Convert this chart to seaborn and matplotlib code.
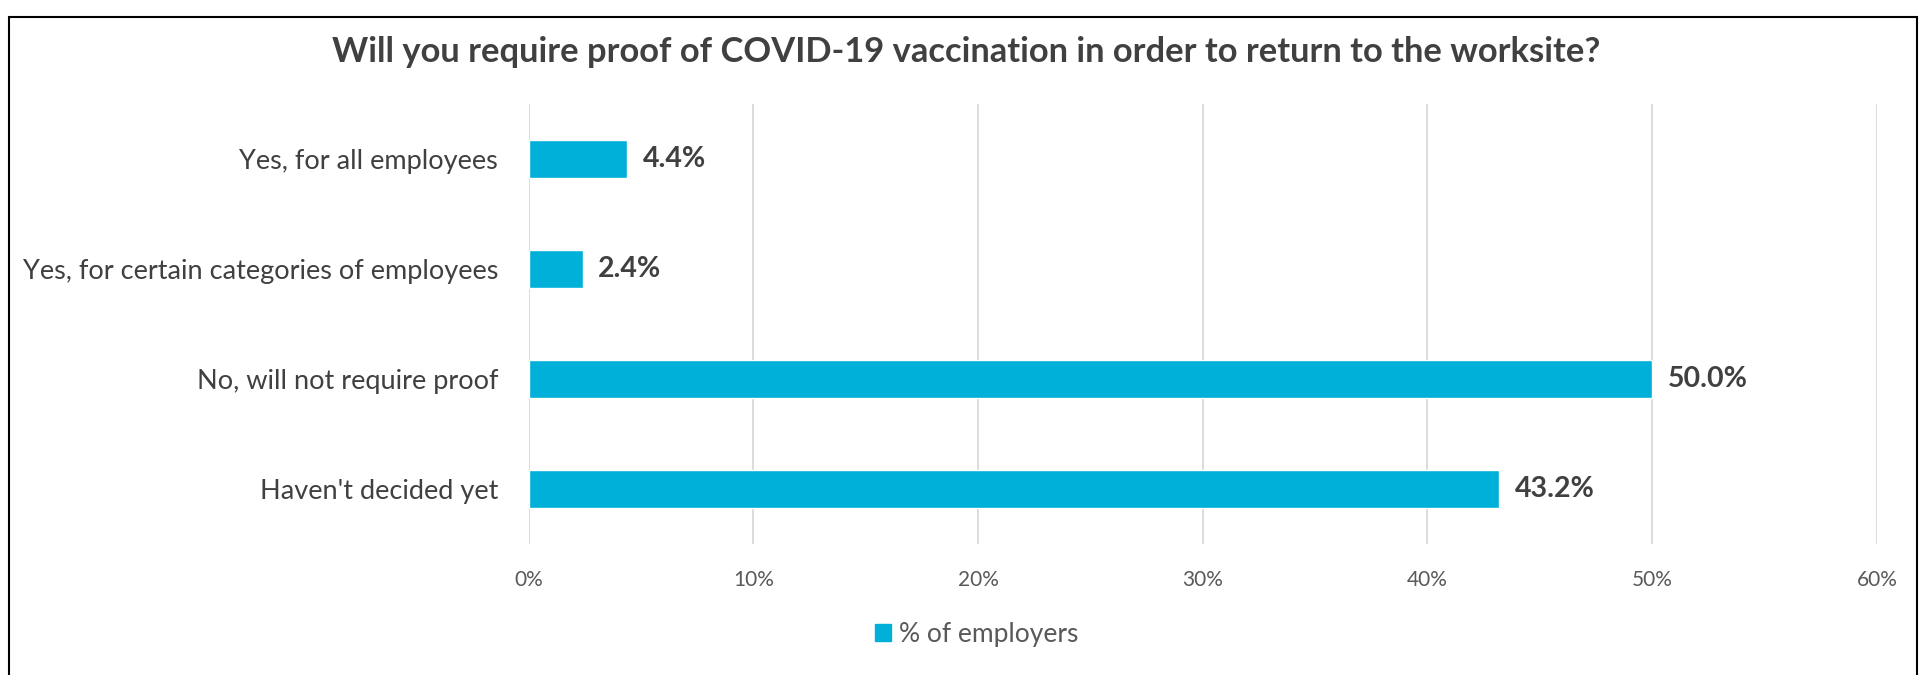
import matplotlib
matplotlib.use("Agg")
import matplotlib.pyplot as plt
import seaborn as sns
import pandas as pd
from matplotlib.patches import Rectangle, Patch

categories = ["Yes, for all employees", "Yes, for certain categories of employees",
              "No, will not require proof", "Haven't decided yet"]
values = [4.4, 2.4, 50.0, 43.2]
series_name = "% of employers"
xticks = [0, 10, 20, 30, 40, 50, 60]
title = "Will you require proof of COVID-19 vaccination in order to return to the worksite?"

sns.set_theme(style="white")
plt.rcParams['font.family'] = ['Lato', 'DejaVu Sans']

bar_color = "#00B0D8"
df = pd.DataFrame({"cat": categories, "val": values})

fig = plt.figure(figsize=(19.27, 6.75), dpi=100)
ax = fig.add_axes([0.2743, 0.194, 0.6997, 0.652])
sns.barplot(data=df, y="cat", x="val", color=bar_color, width=0.35, ax=ax,
            saturation=1, orient="h")
ax.set_xlim(0, 60)
ax.set_ylim(3.5, -0.5)
ax.set_xticks(xticks)
ax.set_xticklabels([f"{t}%" for t in xticks], color="#595959", fontsize=15)
ax.tick_params(axis="x", length=0, pad=19)
ax.tick_params(axis="y", length=0, pad=22, labelsize=19.5, labelcolor="#404040")
ax.set_xlabel("")
ax.set_ylabel("")
ax.grid(axis="x", color="#D9D9D9", linewidth=1.3)
ax.set_axisbelow(True)
for s in ax.spines.values():
    s.set_visible(False)

for c in ax.containers:
    ax.bar_label(c, labels=[f"{v:.1f}%" for v in values], padding=11,
                 fontsize=20.5, fontweight="bold", color="#404040")

fig.text(0.5015, 0.923, title, ha="center", va="center", fontsize=24.8,
         fontweight="bold", color="#404040")

fig.legend(handles=[Patch(color=bar_color, label=series_name)], loc="center",
           bbox_to_anchor=(0.507, 0.06), frameon=False, fontsize=19,
           handlelength=0.6, handleheight=0.6, handletextpad=0.3,
           labelcolor="#595959")

fig.patches.append(Rectangle((0.0045, -0.05), 0.9905, 1.025, transform=fig.transFigure,
                             fill=False, edgecolor="#000000", linewidth=1.5))

fig.savefig("out.png", dpi=100)
